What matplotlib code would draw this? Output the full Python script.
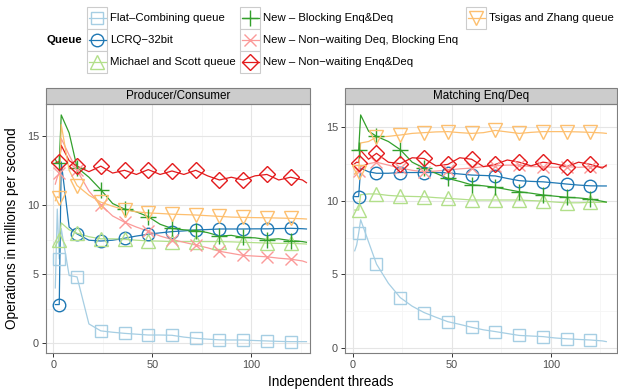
import matplotlib
matplotlib.use("Agg")
import matplotlib.pyplot as plt
from matplotlib.patches import Rectangle

plt.rcParams['font.family'] = ['Liberation Sans', 'DejaVu Sans']

# 1. data (millions of operations per second)
threads = [1, 2, 3, 4, 8, 12, 18, 24, 30, 36, 42, 48, 54, 60, 66, 72, 78, 84,
           90, 96, 102, 108, 114, 120, 126, 128]
mark_threads = [3, 12, 24, 36, 48, 60, 72, 84, 96, 108, 120]

queues = ['Flat\u2013Combining queue', 'LCRQ\u221232bit', 'Michael and Scott queue',
          'New \u2013 Blocking Enq&Deq', 'New \u2013 Non\u2212waiting Deq, Blocking Enq',
          'New \u2013 Non\u2212waiting Enq&Deq', 'Tsigas and Zhang queue']

# Producer/Consumer
pc_fc = [4.0, 9.7, 6.1, 8.3, 4.9, 4.8, 1.4, 0.9, 0.8, 0.72, 0.66, 0.6, 0.6, 0.58,
         0.45, 0.36, 0.3, 0.25, 0.24, 0.24, 0.2, 0.17, 0.14, 0.12, 0.12, 0.12]
pc_lcrq = [2.8, 2.8, 2.8, 13.1, 8.4, 7.9, 7.45, 7.39, 7.45, 7.59, 7.75, 7.88, 7.98,
           8.07, 8.12, 8.19, 8.22, 8.26, 8.26, 8.26, 8.27, 8.27, 8.29, 8.31, 8.28, 8.26]
pc_ms = [7.0, 7.3, 7.45, 8.7, 8.2, 7.95, 7.7, 7.55, 7.55, 7.52, 7.45, 7.4, 7.38,
         7.35, 7.35, 7.35, 7.35, 7.35, 7.33, 7.3, 7.27, 7.24, 7.22, 7.22, 7.19, 7.17]
pc_block = [13.3, 13.0, 13.0, 16.5, 15.2, 12.7, 12.0, 11.1, 10.1, 9.7, 9.5, 9.15, 8.6,
            8.3, 8.2, 8.15, 8.0, 7.75, 7.8, 7.65, 7.62, 7.5, 7.55, 7.42, 7.35, 7.3]
pc_nwdeq = [11.5, 12.0, 12.3, 14.8, 13.6, 12.5, 11.0, 10.0, 9.2, 8.75, 8.4, 8.1, 7.75,
            7.5, 7.3, 7.1, 6.9, 6.65, 6.5, 6.35, 6.3, 6.25, 6.15, 6.08, 5.95, 5.85]
pc_nwboth = [13.0, 13.1, 13.1, 14.3, 13.2, 12.8, 12.4, 12.8, 12.3, 12.5, 12.2, 12.55,
             12.2, 12.45, 12.2, 12.5, 12.1, 11.8, 12.0, 11.8, 12.1, 12.2, 11.8, 12.0,
             11.8, 11.6]
pc_tsigas = [10.3, 10.6, 10.5, 15.8, 12.5, 11.4, 10.7, 10.2, 9.9, 9.65, 9.5, 9.42, 9.38,
             9.33, 9.3, 9.27, 9.22, 9.17, 9.12, 9.1, 9.08, 9.07, 9.05, 9.03, 9.0, 8.98]

# Matching Enq/Deq
me_fc = [6.6, 7.0, 7.8, 8.7, 7.2, 5.7, 4.4, 3.43, 2.85, 2.42, 2.1, 1.8, 1.62, 1.42,
         1.25, 1.13, 1.0, 0.87, 0.83, 0.79, 0.7, 0.64, 0.6, 0.56, 0.5, 0.45]
me_lcrq = [10.27, 10.27, 10.27, 12.2, 11.95, 11.85, 11.85, 11.9, 11.9, 11.9, 11.9,
           11.88, 11.8, 11.73, 11.7, 11.67, 11.5, 11.35, 11.3, 11.27, 11.2, 11.12,
           11.05, 11.0, 10.99, 10.99]
me_ms = [9.36, 9.36, 9.36, 10.4, 10.45, 10.45, 10.35, 10.3, 10.28, 10.26, 10.2, 10.15,
         10.1, 10.04, 10.04, 10.04, 10.04, 10.04, 10.0, 9.97, 9.9, 9.85, 9.85, 9.88,
         9.88, 9.88]
me_block = [13.4, 13.4, 13.4, 15.8, 14.7, 14.35, 14.0, 13.45, 12.6, 12.2, 11.85, 11.5,
            11.3, 11.07, 11.0, 10.9, 10.75, 10.6, 10.5, 10.38, 10.3, 10.22, 10.18, 10.1,
            9.95, 9.9]
me_nwdeq = [11.8, 12.0, 12.0, 12.3, 12.5, 12.6, 12.4, 12.2, 12.05, 11.95, 12.0, 12.07,
            12.15, 12.2, 12.3, 12.35, 12.4, 12.4, 12.3, 12.3, 12.25, 12.3, 12.25, 12.3,
            12.3, 12.3]
me_nwboth = [12.5, 12.6, 12.57, 13.4, 12.8, 13.2, 12.6, 12.5, 12.9, 12.85, 12.35, 12.45,
             12.9, 12.8, 12.3, 12.45, 12.75, 12.6, 12.35, 12.6, 12.5, 12.3, 12.6, 12.45,
             12.2, 12.4]
me_tsigas = [11.8, 11.95, 11.95, 13.9, 14.0, 14.3, 14.35, 14.44, 14.55, 14.6, 14.65,
             14.67, 14.6, 14.55, 14.6, 14.75, 14.65, 14.55, 14.62, 14.67, 14.67, 14.67,
             14.65, 14.62, 14.58, 14.55]

# 2. styles (ColorBrewer "Paired")
colors = ['#A6CEE3', '#1F78B4', '#B2DF8A', '#33A02C', '#FB9A99', '#E31A1C', '#FDBF6F']
markers = ['s', 'o', '^', '+', 'x', 'D', 'v']
msizes = [8.5, 9, 10, 11, 8.5, 8, 10]

W, H = 618, 391
fig = plt.figure(figsize=(W / 100, H / 100), dpi=100)


def px_rect(l, t, r, b):
    return [l / W, 1 - b / H, (r - l) / W, (b - t) / H]


mark_idx = [threads.index(t) for t in mark_threads]


def draw_panel(ax, series, title, xlim, ylim):
    ax.set_facecolor('white')
    # lines first, then points (ggplot layering)
    for vals, c in zip(series, colors):
        ax.plot(threads, vals, color=c, lw=0.9, zorder=2)
    for vals, c, m, s in zip(series, colors, markers, msizes):
        ax.plot([threads[i] for i in mark_idx], [vals[i] for i in mark_idx],
                ls='none', marker=m, ms=s, mfc='none', mec=c, mew=1.0, zorder=3)
    ax.set_xlim(*xlim)
    ax.set_ylim(*ylim)
    ax.set_xticks([0, 50, 100])
    ax.set_xticks([25, 75, 125], minor=True)
    ax.set_yticks([0, 5, 10, 15])
    ax.set_yticks([2.5, 7.5, 12.5], minor=True)
    ax.grid(True, which='major', color='#E5E5E5', lw=0.8, zorder=0)
    ax.grid(True, which='minor', color='#F5F5F5', lw=0.6, zorder=0)
    ax.set_axisbelow(True)
    ax.tick_params(which='major', direction='out', length=3, width=0.7,
                   color='#333333', labelsize=7.8, labelcolor='#4D4D4D', pad=2)
    ax.tick_params(which='minor', length=0)
    for sp in ax.spines.values():
        sp.set_color('#7F7F7F')
        sp.set_linewidth(0.8)
    # facet strip
    strip_h = 16 / ax.get_position().height / H
    ax.add_patch(Rectangle((0, 1), 1, strip_h, transform=ax.transAxes, clip_on=False,
                           fc='#CCCCCC', ec='#7F7F7F', lw=0.8))
    ax.text(0.5, 1 + strip_h / 2, title, transform=ax.transAxes, ha='center',
            va='center', fontsize=8.4, color='black')


ax1 = fig.add_axes(px_rect(46, 104, 310, 353))
draw_panel(ax1, [pc_fc, pc_lcrq, pc_ms, pc_block, pc_nwdeq, pc_nwboth, pc_tsigas],
           'Producer/Consumer', (-3.7, 129.8), (-0.70, 17.29))
ax2 = fig.add_axes(px_rect(345, 104, 617, 353))
draw_panel(ax2, [me_fc, me_lcrq, me_ms, me_block, me_nwdeq, me_nwboth, me_tsigas],
           'Matching Enq/Deq', (-3.9, 133.4), (-0.32, 16.54))

fig.text(12 / W, 1 - 228 / H, 'Operations in millions per second', rotation=90,
         ha='center', va='center', fontsize=9.8)
fig.text(331 / W, 1 - 382 / H, 'Independent threads', ha='center', va='center',
         fontsize=9.8)

# 3. legend drawn in pixel space (ggplot-style key boxes)
lax = fig.add_axes([0, 0, 1, 1])
lax.set_axis_off()
lax.set_xlim(0, W)
lax.set_ylim(H, 0)
col_x = [87, 240, 466]
row_y = [18, 40, 62]
key_w, key_h = 20, 22
lax.text(82, row_y[1], 'Queue', ha='right', va='center', fontsize=8.2,
         fontweight='bold')
for k, name in enumerate(queues):
    kx = col_x[k // 3]
    cy = row_y[k % 3]
    lax.add_patch(Rectangle((kx, cy - key_h / 2), key_w, key_h, fc='white',
                            ec='#CCCCCC', lw=0.8))
    lax.plot([kx + 1.5, kx + key_w - 1.5], [cy, cy], color=colors[k], lw=0.9)
    lax.plot([kx + key_w / 2], [cy], ls='none', marker=markers[k], ms=msizes[k],
             mfc='none', mec=colors[k], mew=1.0)
    lax.text(kx + key_w + 3, cy, name, ha='left', va='center', fontsize=8.2)

fig.savefig('out.png', dpi=100)
